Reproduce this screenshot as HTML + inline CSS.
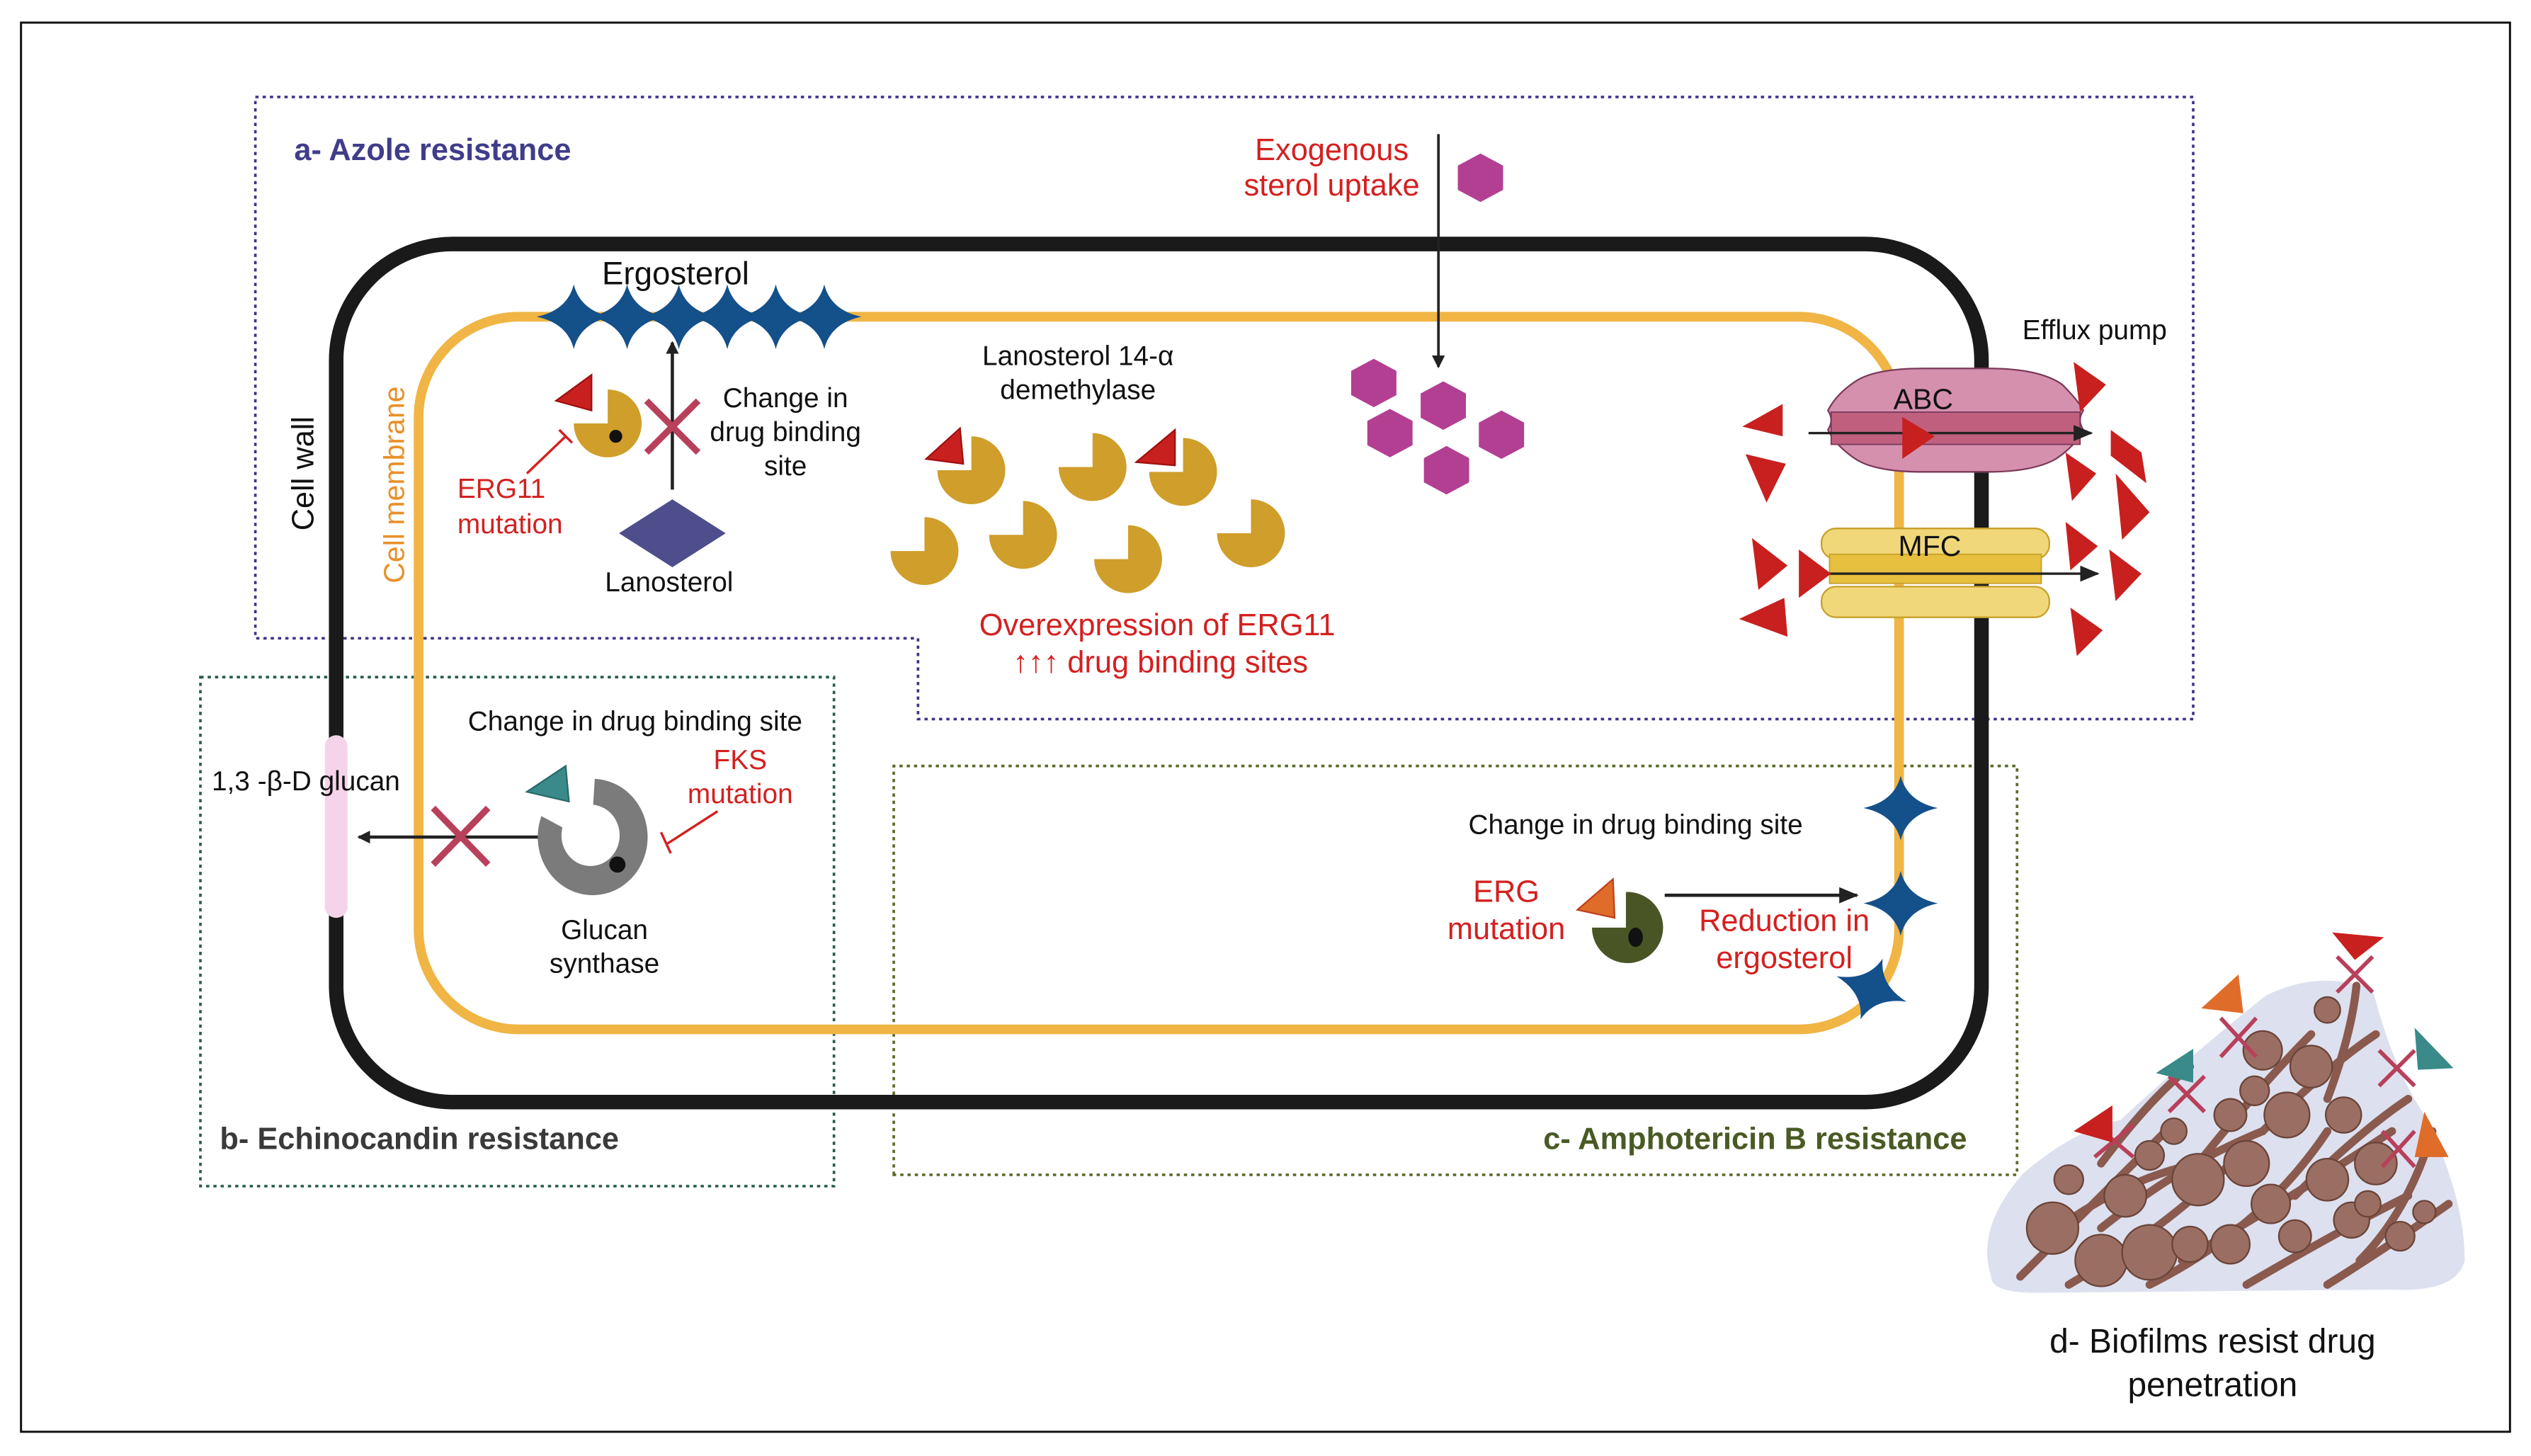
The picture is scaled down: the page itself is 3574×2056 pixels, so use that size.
<!DOCTYPE html>
<html><head><meta charset="utf-8">
<style>
html,body{margin:0;padding:0;background:#fff;}
svg{display:block;}
text{font-family:"Liberation Sans Narrow","Liberation Sans",sans-serif;}
.w{font-family:"Liberation Sans",sans-serif;}
</style></head>
<body>
<svg width="3574" height="2056" viewBox="0 0 1566 901" preserveAspectRatio="none" xmlns="http://www.w3.org/2000/svg">
<defs>
<path id="pac" d="M0,0 L0,-21 A21,21 0 1 1 -21,0 Z" fill="#cf9e2b"/>
<path id="hex" d="M0,-15 L14,-7.5 L14,7.5 L0,15 L-14,7.5 L-14,-7.5 Z" fill="#b33f93"/>
<path id="star" d="M0,-20 Q4,-4 23,0 Q4,4 0,20 Q-4,4 -23,0 Q-4,-4 0,-20 Z" fill="#14508a"/>
<marker id="ah" markerWidth="8" markerHeight="8" refX="7" refY="4" orient="auto" markerUnits="userSpaceOnUse"><path d="M0,0 L8,4 L0,8 Z" fill="#222"/></marker>
<marker id="ah2" markerWidth="12" markerHeight="10" refX="11" refY="5" orient="auto" markerUnits="userSpaceOnUse"><path d="M0,0 L12,5 L0,10 Z" fill="#222"/></marker>
</defs>
<rect x="0" y="0" width="1566" height="901" fill="#fff"/>
<rect x="13" y="14" width="1540" height="872" fill="none" stroke="#111" stroke-width="1.3"/>

<path d="M158,60 L1357,60 L1357,445 L568,445 L568,395 L158,395 Z" fill="none" stroke="#3d3585" stroke-width="1.6" stroke-dasharray="2,2.5"/>
<rect x="124" y="419" width="392" height="315" fill="none" stroke="#2a5e48" stroke-width="1.6" stroke-dasharray="2,2.5"/>
<path d="M553,727 L553,474 L1248,474 L1248,727 Z" fill="none" stroke="#5a6b2a" stroke-width="1.6" stroke-dasharray="2,2.5"/>

<rect x="208" y="151" width="1018" height="531" rx="72" fill="none" stroke="#1a1a1a" stroke-width="9"/>
<rect x="259" y="196" width="916" height="441" rx="62" fill="none" stroke="#f0b545" stroke-width="6"/>
<rect x="201" y="455" width="14" height="113" rx="7" fill="#f5d3e8"/>

<text class="w" x="194" y="293" font-size="19" fill="#111" transform="rotate(-90 194 293)" text-anchor="middle">Cell wall</text>
<text class="w" x="250" y="300" font-size="18" fill="#e8902a" transform="rotate(-90 250 300)" text-anchor="middle">Cell membrane</text>

<g>
<use href="#star" x="355" y="196"/><use href="#star" x="388" y="196"/><use href="#star" x="420" y="196"/>
<use href="#star" x="450" y="196"/><use href="#star" x="480" y="196"/><use href="#star" x="510" y="196"/>
</g>
<text x="418" y="176" font-size="20" fill="#111" text-anchor="middle">Ergosterol</text>

<line x1="416" y1="303" x2="416" y2="212" stroke="#222" stroke-width="2" marker-end="url(#ah)"/>
<path d="M400,248 L432,280 M432,248 L400,280" stroke="#b8405a" stroke-width="4"/>
<use href="#pac" x="376" y="262"/>
<circle cx="381" cy="270" r="4" fill="#111"/>
<path d="M344,248 L366,232 L366,254 Z" fill="#c8201f" stroke="#a01010"/>
<line x1="326" y1="293" x2="350" y2="270" stroke="#d42020" stroke-width="1.5"/>
<line x1="346" y1="266" x2="354" y2="274" stroke="#d42020" stroke-width="1.5"/>
<text x="486" y="252" font-size="17" fill="#111" text-anchor="middle">Change in</text>
<text x="486" y="273" font-size="17" fill="#111" text-anchor="middle">drug binding</text>
<text x="486" y="294" font-size="17" fill="#111" text-anchor="middle">site</text>
<text x="283" y="308" font-size="17" fill="#d42020">ERG11</text>
<text x="283" y="330" font-size="17" fill="#d42020">mutation</text>
<path d="M416,309 L449,330 L416,351 L383,330 Z" fill="#4f4e8c"/>
<text x="414" y="366" font-size="17" fill="#111" text-anchor="middle">Lanosterol</text>

<text x="667" y="226" font-size="17" fill="#111" text-anchor="middle">Lanosterol 14-α</text>
<text x="667" y="247" font-size="17" fill="#111" text-anchor="middle">demethylase</text>
<use href="#pac" x="601" y="291"/><use href="#pac" x="676" y="289"/><use href="#pac" x="732" y="292"/>
<use href="#pac" x="572" y="341"/><use href="#pac" x="633" y="331"/><use href="#pac" x="698" y="346"/><use href="#pac" x="774" y="330"/>
<path d="M573,284 L594,265 L596,287 Z" fill="#c8201f" stroke="#a01010"/>
<path d="M703,286 L727,266 L727,288 Z" fill="#c8201f" stroke="#a01010"/>
<text x="716" y="393" font-size="19" fill="#d42020" text-anchor="middle">Overexpression of ERG11</text>
<text x="718" y="416" font-size="19" fill="#d42020" text-anchor="middle">↑↑↑ drug binding sites</text>

<text x="824" y="99" font-size="19" fill="#d42020" text-anchor="middle">Exogenous</text>
<text x="824" y="121" font-size="19" fill="#d42020" text-anchor="middle">sterol uptake</text>
<line x1="890" y1="83" x2="890" y2="227" stroke="#222" stroke-width="1.6" marker-end="url(#ah)"/>
<use href="#hex" x="916" y="110"/>
<use href="#hex" x="850" y="237"/><use href="#hex" x="893" y="251"/><use href="#hex" x="860" y="268"/>
<use href="#hex" x="929" y="269"/><use href="#hex" x="895" y="291"/>

<text class="w" x="1296" y="210" font-size="17" fill="#111" text-anchor="middle">Efflux pump</text>
<path d="M1148,236 Q1160,228 1190,228 L1230,228 Q1262,228 1276,238 Q1286,248 1289,254 Q1285,260 1289,266 Q1284,276 1272,284 Q1258,292 1230,292 L1190,292 Q1160,292 1148,284 Q1136,276 1131,266 Q1135,260 1131,254 Q1136,244 1148,236 Z" fill="#d590ae" stroke="#7a3a5a" stroke-width="1"/>
<rect x="1133" y="255" width="154" height="20" fill="#c0607e" stroke="#7a3a5a" stroke-width="0.8"/>
<text class="w" x="1190" y="253" font-size="18" fill="#111" text-anchor="middle">ABC</text>
<line x1="1119" y1="268" x2="1294" y2="268" stroke="#222" stroke-width="1.5" marker-end="url(#ah2)"/>
<path d="M1177,258 L1197,270 L1177,284 Z" fill="#c8201f"/>
<rect x="1127" y="327" width="141" height="19" rx="9" fill="#f0d87a" stroke="#c8a02a" stroke-width="1"/>
<rect x="1132" y="343" width="131" height="18" fill="#e6c03e" stroke="#c8a02a" stroke-width="0.8"/>
<rect x="1127" y="363" width="141" height="19" rx="9" fill="#f0d87a" stroke="#c8a02a" stroke-width="1"/>
<text class="w" x="1194" y="344" font-size="18" fill="#111" text-anchor="middle">MFC</text>
<line x1="1130" y1="355" x2="1298" y2="355" stroke="#222" stroke-width="1.5" marker-end="url(#ah2)"/>
<path d="M1078,264 L1103,250 L1103,270 Z" fill="#c8201f"/>
<path d="M1080,281 L1105,287 L1093,311 Z" fill="#c8201f"/>
<path d="M1084,333 L1106,350 L1088,365 Z" fill="#c8201f"/>
<path d="M1113,340 L1133,355 L1113,370 Z" fill="#c8201f"/>
<path d="M1076,383 L1104,370 L1106,394 Z" fill="#c8201f"/>
<path d="M1283,224 L1303,238 L1287,255 Z" fill="#c8201f"/>
<path d="M1306,266 L1325,280 L1328,299 L1306,282 Z" fill="#c8201f"/>
<path d="M1278,280 L1297,293 L1282,310 Z" fill="#c8201f"/>
<path d="M1309,293 L1330,317 L1313,334 Z" fill="#c8201f"/>
<path d="M1278,323 L1298,338 L1281,353 Z" fill="#c8201f"/>
<path d="M1305,340 L1325,355 L1309,372 Z" fill="#c8201f"/>
<path d="M1281,376 L1301,390 L1285,406 Z" fill="#c8201f"/>

<text x="393" y="452" font-size="17" fill="#111" text-anchor="middle">Change in drug binding site</text>
<text x="458" y="476" font-size="17" fill="#d42020" text-anchor="middle">FKS</text>
<text x="458" y="497" font-size="17" fill="#d42020" text-anchor="middle">mutation</text>
<text x="131" y="489" font-size="17" fill="#111">1,3 -β-D glucan</text>
<line x1="336" y1="518" x2="222" y2="518" stroke="#222" stroke-width="2" marker-end="url(#ah)"/>
<path d="M268,500 L302,535 M302,500 L268,535" stroke="#b8405a" stroke-width="4"/>
<path d="M368,482 A34,36 0 1 1 335,505 L348,512 A18,19 0 1 0 367,498 Z" fill="#7b7b7b"/>
<circle cx="382" cy="535" r="5" fill="#111"/>
<path d="M326,490 L350,474 L352,496 Z" fill="#3a8a8a" stroke="#2a6a6a"/>
<line x1="444" y1="502" x2="413" y2="522" stroke="#d42020" stroke-width="1.5"/>
<line x1="409" y1="515" x2="415" y2="528" stroke="#d42020" stroke-width="1.5"/>
<text x="374" y="581" font-size="17" fill="#111" text-anchor="middle">Glucan</text>
<text x="374" y="602" font-size="17" fill="#111" text-anchor="middle">synthase</text>
<text class="w" x="136" y="711" font-size="19" font-weight="bold" fill="#3a3a3a">b- Echinocandin resistance</text>

<text x="1012" y="516" font-size="17" fill="#111" text-anchor="middle">Change in drug binding site</text>
<text x="932" y="558" font-size="19" fill="#d42020" text-anchor="middle">ERG</text>
<text x="932" y="581" font-size="19" fill="#d42020" text-anchor="middle">mutation</text>
<path d="M1006,574 L1006,552 A22,22 0 1 1 985,574 Z" fill="#4a5525"/>
<ellipse cx="1012" cy="580" rx="4.5" ry="6" fill="#111"/>
<path d="M976,563 L998,544 L999,568 Z" fill="#e06c2a" stroke="#c0401a"/>
<line x1="1030" y1="554" x2="1149" y2="554" stroke="#222" stroke-width="2" marker-end="url(#ah2)"/>
<text x="1104" y="576" font-size="19" fill="#d42020" text-anchor="middle">Reduction in</text>
<text x="1104" y="599" font-size="19" fill="#d42020" text-anchor="middle">ergosterol</text>
<use href="#star" x="1176" y="500"/>
<use href="#star" x="1176" y="559"/>
<use href="#star" x="1158" y="612" transform="rotate(20 1158 612)"/>
<text class="w" x="1217" y="711" font-size="19" font-weight="bold" fill="#4a5a25" text-anchor="end">c- Amphotericin B resistance</text>

<text class="w" x="182" y="99" font-size="19" font-weight="bold" fill="#3f3d8a">a- Azole resistance</text>

<path d="M1232,790 Q1222,760 1252,726 Q1282,700 1312,693 Q1352,656 1402,616 Q1435,600 1468,612 Q1480,660 1500,690 Q1525,740 1525,780 Q1520,800 1480,798 L1260,800 Q1232,800 1232,790 Z" fill="#dde0ef"/>
<g stroke="#8a5a4e" stroke-width="5" fill="none" stroke-linecap="round">
<path d="M1250,790 Q1300,740 1340,700"/><path d="M1280,795 Q1340,760 1380,720"/><path d="M1330,795 Q1400,760 1440,700"/>
<path d="M1390,795 Q1450,760 1490,740"/><path d="M1440,795 Q1480,770 1515,745"/><path d="M1360,720 Q1400,670 1430,640"/>
<path d="M1300,720 Q1330,680 1355,660"/><path d="M1420,740 Q1460,700 1490,680"/><path d="M1440,680 Q1455,640 1458,610"/>
<path d="M1260,770 Q1310,730 1360,720"/><path d="M1350,780 Q1420,740 1480,700"/><path d="M1400,700 Q1440,660 1470,640"/>
<path d="M1300,760 Q1350,720 1400,700"/><path d="M1460,780 Q1490,750 1505,700"/>
</g>
<g fill="#9a6e62" stroke="#6a4438" stroke-width="1">
<circle cx="1270" cy="760" r="16"/><circle cx="1300" cy="780" r="16"/><circle cx="1330" cy="775" r="17"/>
<circle cx="1360" cy="730" r="16"/><circle cx="1315" cy="740" r="13"/><circle cx="1390" cy="720" r="14"/>
<circle cx="1415" cy="690" r="14"/><circle cx="1430" cy="660" r="13"/><circle cx="1400" cy="650" r="12"/>
<circle cx="1440" cy="730" r="13"/><circle cx="1470" cy="720" r="13"/><circle cx="1450" cy="690" r="11"/>
<circle cx="1380" cy="770" r="12"/><circle cx="1420" cy="765" r="10"/><circle cx="1485" cy="765" r="9"/>
<circle cx="1280" cy="730" r="9"/><circle cx="1345" cy="700" r="8"/><circle cx="1380" cy="690" r="10"/>
<circle cx="1355" cy="770" r="11"/><circle cx="1405" cy="745" r="12"/><circle cx="1455" cy="755" r="11"/>
<circle cx="1330" cy="715" r="9"/><circle cx="1440" cy="625" r="8"/><circle cx="1395" cy="675" r="9"/>
<circle cx="1465" cy="745" r="8"/><circle cx="1500" cy="750" r="7"/>
</g>
<g stroke="#b8405a" stroke-width="2.5">
<path d="M1296,696 L1320,716 M1320,696 L1296,716"/><path d="M1342,666 L1364,688 M1364,666 L1342,688"/>
<path d="M1374,630 L1396,654 M1396,630 L1374,654"/><path d="M1446,592 L1468,614 M1468,592 L1446,614"/>
<path d="M1472,650 L1494,672 M1494,650 L1472,672"/><path d="M1474,700 L1494,722 M1494,700 L1474,722"/>
</g>
<path d="M1283,700 L1307,684 L1307,707 Z" fill="#c8201f"/>
<path d="M1334,664 L1357,649 L1357,670 Z" fill="#3a8a8a"/>
<path d="M1362,624 L1385,603 L1388,627 Z" fill="#e06c2a"/>
<path d="M1443,577 L1475,580 L1457,594 Z" fill="#c8201f"/>
<path d="M1494,636 L1518,661 L1496,662 Z" fill="#3a8a8a"/>
<path d="M1500,688 L1515,716 L1494,716 Z" fill="#e06c2a"/>
<text class="w" x="1369" y="837" font-size="21" fill="#111" text-anchor="middle">d- Biofilms resist drug</text>
<text class="w" x="1369" y="864" font-size="21" fill="#111" text-anchor="middle">penetration</text>
</svg>
</body></html>
